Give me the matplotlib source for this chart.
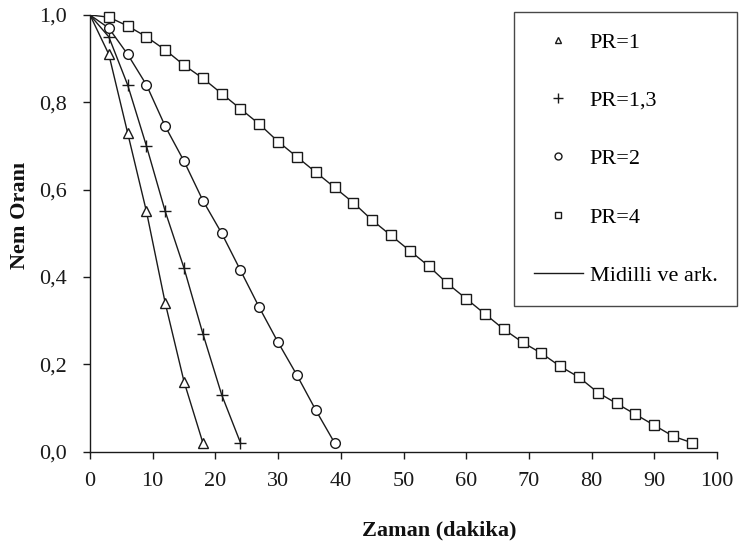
import numpy as np
import matplotlib
matplotlib.use("Agg")
import matplotlib.pyplot as plt
from matplotlib.lines import Line2D
from matplotlib.ticker import FuncFormatter

plt.rcParams['font.family'] = ['Liberation Serif', 'DejaVu Serif']

# drying time (min) and moisture ratio for each power ratio
t_pr1 = [3, 6, 9, 12, 15, 18]
mr_pr1 = [0.91, 0.73, 0.55, 0.34, 0.16, 0.02]

t_pr13 = [3, 6, 9, 12, 15, 18, 21, 24]
mr_pr13 = [0.95, 0.84, 0.70, 0.55, 0.42, 0.27, 0.13, 0.02]

t_pr2 = [3, 6, 9, 12, 15, 18, 21, 24, 27, 30, 33, 36, 39]
mr_pr2 = [0.97, 0.91, 0.84, 0.745, 0.665, 0.575, 0.50, 0.415, 0.33, 0.25, 0.175, 0.095, 0.02]

t_pr4 = [3, 6, 9, 12, 15, 18, 21, 24, 27, 30, 33, 36, 39, 42, 45, 48,
         51, 54, 57, 60, 63, 66, 69, 72, 75, 78, 81, 84, 87, 90, 93, 96]
mr_pr4 = [0.995, 0.975, 0.95, 0.92, 0.885, 0.855, 0.82, 0.785, 0.75, 0.71, 0.675, 0.64,
          0.605, 0.57, 0.53, 0.495, 0.46, 0.425, 0.385, 0.35, 0.315, 0.28, 0.25, 0.225,
          0.195, 0.17, 0.135, 0.11, 0.085, 0.06, 0.035, 0.02]

# all model curves start from MR = 1 at t = 0
t0, mr0 = 0, 1.0

series = [
    (t_pr1, mr_pr1, '^', 7, 'PR=1'),
    (t_pr13, mr_pr13, '+', 9, 'PR=1,3'),
    (t_pr2, mr_pr2, 'o', 7, 'PR=2'),
    (t_pr4, mr_pr4, 's', 7, 'PR=4'),
]

fig = plt.figure(figsize=(7.39, 5.51), dpi=100)
ax = fig.add_axes([90 / 739, 1 - 451.5 / 551, 627 / 739, 436.5 / 551])

for t, mr, mk, ms, lab in series:
    ax.plot([t0] + t, [mr0] + mr, '-', color='#1a1a1a', lw=1.0, zorder=2)
    ax.plot(t, mr, linestyle='none', marker=mk, ms=ms, mfc='white', mec='#1a1a1a',
            mew=1.0, clip_on=False, zorder=3)

ax.set_xlim(0, 100)
ax.set_ylim(0, 1.0)
ax.set_xticks(np.arange(0, 101, 10))
ax.set_yticks(np.arange(0, 1.01, 0.2))
ax.yaxis.set_major_formatter(FuncFormatter(lambda v, p: ('%.1f' % v).replace('.', ',')))
for s in ['top', 'right']:
    ax.spines[s].set_visible(False)
for s in ['left', 'bottom']:
    ax.spines[s].set_linewidth(1.0)
    ax.spines[s].set_color('#1a1a1a')
ax.tick_params(axis='both', direction='out', length=5, width=1.0, colors='#1a1a1a',
               labelsize=16, labelcolor='#1a1a1a')
ax.tick_params(axis='x', pad=10)
ax.tick_params(axis='y', pad=12)

fig.text(439 / 739, 1 - 530 / 551, 'Zaman (dakika)', ha='center', va='center',
         fontsize=16, fontweight='bold', color='#111111')
fig.text(20 / 739, 1 - 215 / 551, 'Nem Oranı', ha='center', va='center', rotation=90,
         fontsize=16, fontweight='bold', color='#111111')

handles = [Line2D([], [], linestyle='none', marker=mk, ms=5 if mk != '+' else 7,
                  mfc='white', mec='#1a1a1a', mew=1.0)
           for _, _, mk, _, _ in series]
handles.append(Line2D([], [], color='#1a1a1a', lw=1.0))
labels = [lab for *_, lab in series] + ['Midilli ve ark.']

leg = fig.legend(handles, labels, loc='upper left', bbox_to_anchor=(514 / 739, 1 - 12 / 551),
                 borderaxespad=0, fontsize=16, frameon=True, fancybox=False,
                 edgecolor='#1a1a1a', labelspacing=1.7, handlelength=2.2,
                 handletextpad=0.3, borderpad=0.9)
leg.get_frame().set_linewidth(1.0)

fig.savefig('out.png', dpi=100)
